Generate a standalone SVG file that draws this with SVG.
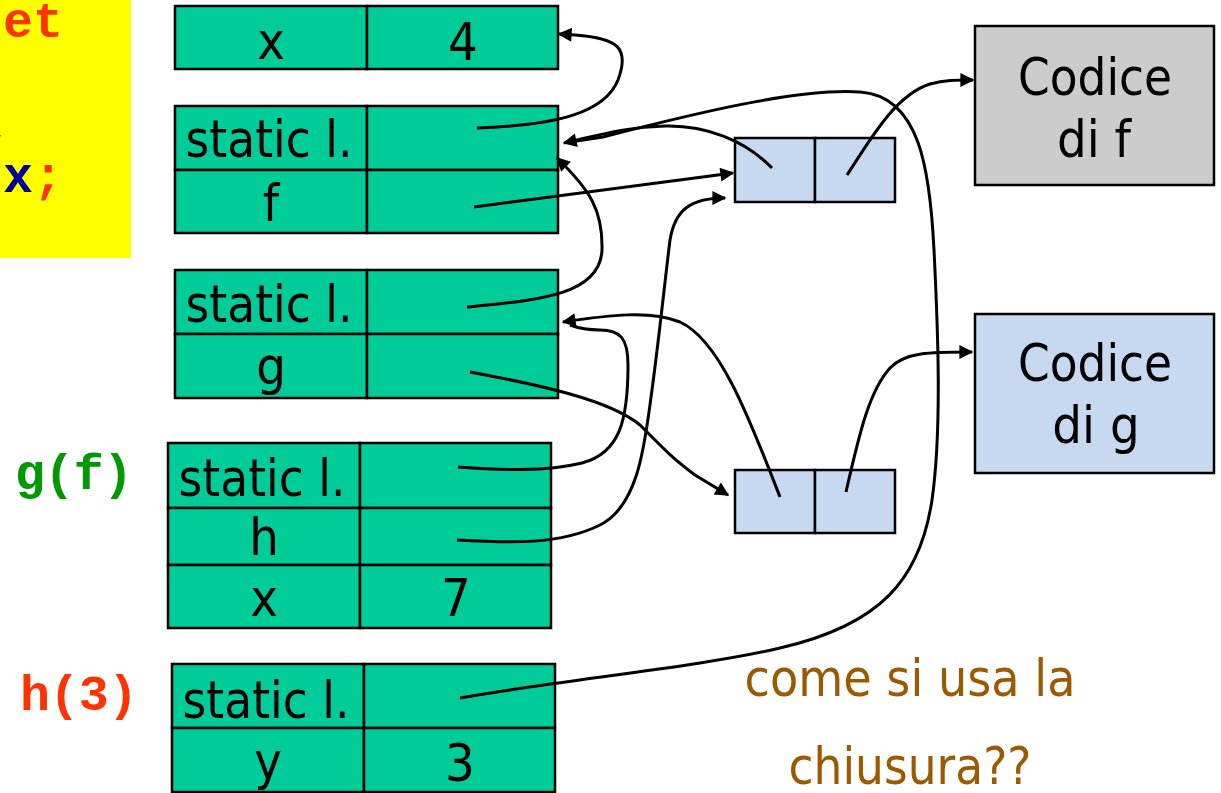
<svg xmlns="http://www.w3.org/2000/svg" width="1221" height="793" viewBox="0 0 1221 793">
  <style>
    .cell { fill: #00cc99; stroke: #000; stroke-width: 2.5; }
    .clo { fill: #c6d9f1; stroke: #000; stroke-width: 2.5; }
    .lbl { font-family: "DejaVu Sans Condensed", "DejaVu Sans", sans-serif; font-size: 52px; fill: #000; text-anchor: middle; }
    .code { font-family: "Liberation Mono", "Courier New", monospace; font-weight: bold; font-size: 50px; }
    .link { fill: none; stroke: #000; stroke-width: 3; }
    .note { font-family: "DejaVu Sans Condensed", "DejaVu Sans", sans-serif; font-size: 52px; fill: #9c5a00; text-anchor: middle; }
  </style>
  <defs>
    <marker id="ah" viewBox="0 0 10 10" refX="9" refY="5" markerWidth="17" markerHeight="14" markerUnits="userSpaceOnUse" orient="auto">
      <path d="M0,0 L10,5 L0,10 z" fill="#000"/>
    </marker>
  </defs>
  <rect width="1221" height="793" fill="#fff"/>

  <!-- program source fragment -->
  <g id="source">
    <rect x="0" y="0" width="131" height="258" fill="#ffff00"/>
    <text x="3" y="37" class="code" fill="#ff3300" font-size="52">et</text>
    <text x="-17" y="142" class="code" fill="#ff3300">,</text>
    <text x="3" y="192" class="code" font-size="48"><tspan fill="#000099">x</tspan><tspan fill="#ff3300">;</tspan></text>
  </g>

  <!-- global x -->
  <g id="frame-x">
    <rect class="cell" x="175" y="6" width="192" height="63"/>
    <rect class="cell" x="367" y="6" width="191" height="63"/>
    <text class="lbl" x="271" y="59">x</text>
    <text class="lbl" x="463" y="60">4</text>
  </g>

  <!-- f definition -->
  <g id="frame-f">
    <rect class="cell" x="175" y="106" width="192" height="64"/>
    <rect class="cell" x="367" y="106" width="191" height="64"/>
    <rect class="cell" x="175" y="170" width="192" height="63"/>
    <rect class="cell" x="367" y="170" width="191" height="63"/>
    <text class="lbl" x="269" y="157" textLength="167" lengthAdjust="spacingAndGlyphs">static l.</text>
    <text class="lbl" x="271" y="221">f</text>
  </g>

  <!-- g definition -->
  <g id="frame-g">
    <rect class="cell" x="175" y="270" width="192" height="64"/>
    <rect class="cell" x="367" y="270" width="191" height="64"/>
    <rect class="cell" x="175" y="334" width="192" height="64"/>
    <rect class="cell" x="367" y="334" width="191" height="64"/>
    <text class="lbl" x="269" y="322" textLength="167" lengthAdjust="spacingAndGlyphs">static l.</text>
    <text class="lbl" x="271" y="384">g</text>
  </g>

  <!-- activation of g(f) -->
  <g id="frame-gf">
    <text x="15" y="489" class="code" fill="#009900" textLength="118" lengthAdjust="spacing">g(f)</text>
    <rect class="cell" x="168" y="443" width="192" height="65"/>
    <rect class="cell" x="360" y="443" width="191" height="65"/>
    <rect class="cell" x="168" y="508" width="192" height="57"/>
    <rect class="cell" x="360" y="508" width="191" height="57"/>
    <rect class="cell" x="168" y="565" width="192" height="63"/>
    <rect class="cell" x="360" y="565" width="191" height="63"/>
    <text class="lbl" x="262" y="496" textLength="167" lengthAdjust="spacingAndGlyphs">static l.</text>
    <text class="lbl" x="264" y="555">h</text>
    <text class="lbl" x="264" y="616">x</text>
    <text class="lbl" x="456" y="616">7</text>
  </g>

  <!-- activation of h(3) -->
  <g id="frame-h3">
    <text x="20" y="710" class="code" fill="#ff3300" textLength="118" lengthAdjust="spacing">h(3)</text>
    <rect class="cell" x="172" y="664" width="192" height="64"/>
    <rect class="cell" x="364" y="664" width="191" height="64"/>
    <rect class="cell" x="172" y="728" width="192" height="64"/>
    <rect class="cell" x="364" y="728" width="191" height="64"/>
    <text class="lbl" x="266" y="718" textLength="167" lengthAdjust="spacingAndGlyphs">static l.</text>
    <text class="lbl" x="268" y="779">y</text>
    <text class="lbl" x="460" y="781">3</text>
  </g>

  <!-- closure of f -->
  <g id="closure-f">
    <rect class="clo" x="735" y="138" width="80" height="64"/>
    <rect class="clo" x="815" y="138" width="80" height="64"/>
  </g>

  <!-- closure of g -->
  <g id="closure-g">
    <rect class="clo" x="735" y="470" width="80" height="63"/>
    <rect class="clo" x="815" y="470" width="80" height="63"/>
  </g>

  <!-- code blocks -->
  <g id="code-f">
    <rect x="975" y="26" width="239" height="159" fill="#cccccc" stroke="#000" stroke-width="2.5"/>
    <text class="lbl" x="1095" y="95" textLength="154" lengthAdjust="spacingAndGlyphs">Codice</text>
    <text class="lbl" x="1094" y="157">di f</text>
  </g>
  <g id="code-g">
    <rect x="975" y="314" width="239" height="159" fill="#c6d9f1" stroke="#000" stroke-width="2.5"/>
    <text class="lbl" x="1095" y="381" textLength="154" lengthAdjust="spacingAndGlyphs">Codice</text>
    <text class="lbl" x="1096" y="443">di g</text>
  </g>

  <!-- question -->
  <g id="question">
    <text class="note" x="910" y="696" textLength="331" lengthAdjust="spacingAndGlyphs">come si usa la</text>
    <text class="note" x="910" y="784" textLength="243" lengthAdjust="spacingAndGlyphs">chiusura??</text>
  </g>

  <!-- pointers -->
  <g id="connectors">
    <path class="link" marker-end="url(#ah)" d="M477,128 C560,125 605,112 618,80 C630,48 618,38 575,35 L559,34"/>
    <path class="link" marker-end="url(#ah)" d="M772,168 C745,140 705,125 665,126 C625,127 600,135 564,143"/>
    <path class="link" d="M460,698 C560,680 700,667 780,648 C880,625 920,580 932,500 C942,430 938,330 934,250 C930,170 920,96 860,92 C800,88 700,112 603,137 L570,142"/>
    <path class="link" marker-end="url(#ah)" d="M474,207 L733,173"/>
    <path class="link" marker-end="url(#ah)" d="M467,307 C540,300 600,295 602,250 C603,210 590,190 557,158"/>
    <path class="link" marker-end="url(#ah)" d="M780,497 C750,420 720,340 680,322 C650,310 610,315 563,322"/>
    <path class="link" d="M458,467 C500,470 545,472 582,463 C620,453 628,420 628,365 C628,338 620,330 600,330 C585,330 578,328 570,325"/>
    <path class="link" marker-end="url(#ah)" d="M470,372 C540,385 610,400 640,425 C665,450 672,458 695,475 L728,495"/>
    <path class="link" marker-end="url(#ah)" d="M457,540 C510,543 560,545 600,525 C640,505 645,440 652,390 C660,330 665,280 670,240 C675,210 690,198 725,198"/>
    <path class="link" marker-end="url(#ah)" d="M847,175 C870,140 895,95 930,84 C945,80 955,80 973,80"/>
    <path class="link" marker-end="url(#ah)" d="M846,492 C860,430 870,390 890,368 C905,352 930,352 972,352"/>
  </g>
</svg>
